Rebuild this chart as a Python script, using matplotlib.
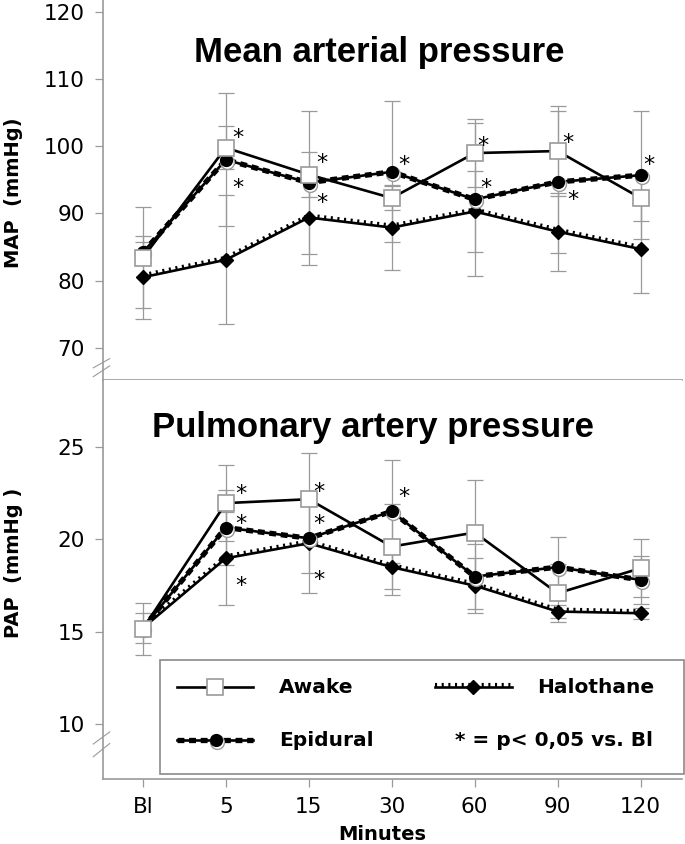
# MAP and PAP over time, three groups, mean +/- SD
import numpy as np
import matplotlib.pyplot as plt
from matplotlib.transforms import offset_copy
from matplotlib.patches import Rectangle

times = ['Bl', '5', '15', '30', '60', '90', '120']

map_awake = [83.4, 99.8, 95.8, 92.3, 99.0, 99.3, 92.3]
map_awake_sd = [7.5, 3.2, 3.3, 1.8, 5.0, 6.7, 3.4]
map_epidural = [84.2, 98.0, 94.6, 96.2, 92.1, 94.7, 95.7]
map_epidural_sd = [1.5, 9.9, 10.6, 10.5, 11.4, 10.6, 9.5]
map_halothane = [80.5, 83.1, 89.4, 87.9, 90.3, 87.3, 84.7]
map_halothane_sd = [6.2, 9.6, 7.1, 6.3, 6.1, 5.8, 6.5]

pap_awake = [15.15, 21.95, 22.16, 19.6, 20.36, 17.08, 18.43]
pap_awake_sd = [1.4, 2.05, 2.5, 2.3, 2.85, 1.58, 1.57]
pap_epidural = [15.2, 20.63, 20.05, 21.5, 17.98, 18.49, 17.8]
pap_epidural_sd = [0.8, 2.05, 1.9, 2.8, 1.75, 1.65, 1.3]
pap_halothane = [15.2, 18.97, 19.78, 18.49, 17.49, 16.09, 16.0]
pap_halothane_sd = [0.3, 2.5, 2.7, 1.5, 1.48, 0.36, 0.3]

# significance stars (time index, value)
map_star_x = [1.15, 1.15, 2.16, 2.16, 3.15, 4.1, 4.14, 5.12, 5.18, 6.1]
map_star_y = [101.6, 94.2, 97.9, 91.9, 97.5, 100.4, 94.2, 100.9, 92.4, 97.5]
pap_star_x = [1.18, 1.18, 1.18, 2.12, 2.12, 2.12, 3.15]
pap_star_y = [22.57, 20.95, 17.6, 22.66, 20.95, 17.9, 22.43]

GREY = '#9a9a9a'
TITLE_FONT = ['Liberation Sans', 'DejaVu Sans']


def awake_style(ax, x, y, tr):
  ax.plot(x, y, color='k', lw=1.9, marker='s', ms=11.5, mfc='white',
          mec=GREY, mew=1.2, transform=tr, zorder=6, clip_on=False)


def epidural_style(ax, x, y, tr, fig):
  ax.plot(x, y, color='k', lw=1.9, transform=tr, zorder=4, clip_on=False)
  ax.plot(x, y, color='k', lw=3.8, ls=(0, (1.3, 0.9)), transform=tr,
          zorder=4, clip_on=False)
  sh = offset_copy(tr, fig=fig, x=1.5, y=-2, units='dots')
  ax.plot(x, y, ls='none', marker='o', ms=10, mfc='white', mec=GREY,
          mew=1, transform=sh, zorder=5, clip_on=False)
  ax.plot(x, y, ls='none', marker='o', ms=8.5, mfc='k', mec='k',
          transform=tr, zorder=5, clip_on=False)


def halothane_style(ax, x, y, tr, fig):
  ax.plot(x, y, color='k', lw=1.9, transform=tr, zorder=3, clip_on=False)
  up = offset_copy(tr, fig=fig, x=0, y=2, units='dots')
  ax.plot(x, y, color='k', lw=3.0, ls=(0, (0.5, 1.1)), transform=up,
          zorder=3, clip_on=False)
  ax.plot(x, y, ls='none', marker='D', ms=7, mfc='k', mec='k',
          transform=tr, zorder=5, clip_on=False)


def style_axes(ax):
  for s in ['top', 'right']:
    ax.spines[s].set_visible(False)
  for s in ['left', 'bottom']:
    ax.spines[s].set_color(GREY)
    ax.spines[s].set_linewidth(1.2)
  ax.tick_params(axis='both', colors=GREY, length=6, width=0.9,
                 labelcolor='black', labelsize=15.5)
  ax.tick_params(axis='y', pad=7)
  ax.tick_params(axis='x', pad=7)
  ax.set_xlim(-0.48, 6.5)
  ax.set_xticks(np.arange(len(times)))


def break_marks(ax, y1, y2):
  for (a, b) in [y1, y2]:
    ax.plot([-0.0168, 0.0115], [a, b], color=GREY, lw=0.8,
            transform=ax.transAxes, clip_on=False)


def panel(ax, fig, aw, aw_sd, ep, ep_sd, ha, ha_sd, sx, sy):
  x = np.arange(len(times))
  for y, sd in [(aw, aw_sd), (ep, ep_sd), (ha, ha_sd)]:
    ax.errorbar(x, y, yerr=sd, fmt='none', ecolor=GREY, elinewidth=0.9,
                capsize=6, capthick=0.9, zorder=1)
  halothane_style(ax, x, ha, ax.transData, fig)
  epidural_style(ax, x, ep, ax.transData, fig)
  awake_style(ax, x, aw, ax.transData)
  for a, b in zip(sx, sy):
    ax.annotate('*', (a, b), xytext=(0, -6), textcoords='offset points',
                ha='center', va='baseline', fontsize=16, zorder=7)


def main():
  fig = plt.figure(figsize=(6.85, 8.44), dpi=100)
  ax1 = fig.add_axes([0.1504, 0.5498, 0.8453, 0.4502])
  ax2 = fig.add_axes([0.1504, 0.0770, 0.8453, 0.4727])

  # top panel: mean arterial pressure
  panel(ax1, fig, map_awake, map_awake_sd, map_epidural, map_epidural_sd,
        map_halothane, map_halothane_sd, map_star_x, map_star_y)
  style_axes(ax1)
  ax1.set_ylim(65.2, 121.8)
  ax1.set_yticks([70, 80, 90, 100, 110, 120])
  ax1.set_xticklabels([])
  ax1.text(0.477, 0.863, 'Mean arterial pressure', transform=ax1.transAxes,
           ha='center', va='center', fontsize=25, fontweight='bold',
           family=TITLE_FONT)
  break_marks(ax1, (0.032, 0.056), (0.0087, 0.037))

  # bottom panel: pulmonary artery pressure
  panel(ax2, fig, pap_awake, pap_awake_sd, pap_epidural, pap_epidural_sd,
        pap_halothane, pap_halothane_sd, pap_star_x, pap_star_y)
  style_axes(ax2)
  ax2.set_ylim(7.04, 28.6)
  ax2.set_yticks([10, 15, 20, 25])
  ax2.set_xticklabels(times)
  ax2.text(0.466, 0.882, 'Pulmonary artery pressure', transform=ax2.transAxes,
           ha='center', va='center', fontsize=25, fontweight='bold',
           family=TITLE_FONT)
  break_marks(ax2, (0.0877, 0.118), (0.0559, 0.089))

  # axis labels
  fig.text(14 / 685, 1 - 193 / 844, 'MAP  (mmHg)', rotation=90, ha='center',
           va='center', fontsize=14, fontweight='bold')
  fig.text(14 / 685, 1 - 563 / 844, 'PAP  (mmHg )', rotation=90, ha='center',
           va='center', fontsize=14, fontweight='bold')
  fig.text(382 / 685, 1 - 834 / 844, 'Minutes', ha='center', va='center',
           fontsize=14, fontweight='bold')

  # legend box
  ta = ax2.transAxes
  ax2.add_patch(Rectangle((0.0984, 0.0125), 0.905, 0.2855, transform=ta,
                          fill=True, facecolor='white', edgecolor='#8a8a8a',
                          lw=1.2, zorder=8, clip_on=False))
  r1, r2 = 0.2306, 0.0977
  ax2.plot([0.128, 0.259], [r1, r1], color='k', lw=1.9, transform=ta,
           zorder=9, clip_on=False)
  ax2.plot([0.193], [r1], ls='none', marker='s', ms=11.5, mfc='white',
           mec=GREY, mew=1.2, transform=ta, zorder=10, clip_on=False)
  lx = [0.128, 0.259]
  ax2.plot(lx, [r2, r2], color='k', lw=1.9, transform=ta, zorder=9,
           clip_on=False)
  ax2.plot(lx, [r2, r2], color='k', lw=3.8, ls=(0, (1.3, 0.9)),
           transform=ta, zorder=9, clip_on=False)
  sh = offset_copy(ta, fig=fig, x=1.5, y=-2, units='dots')
  ax2.plot([0.195], [r2], ls='none', marker='o', ms=10, mfc='white',
           mec=GREY, transform=sh, zorder=10, clip_on=False)
  ax2.plot([0.195], [r2], ls='none', marker='o', ms=8.5, mfc='k', mec='k',
           transform=ta, zorder=10, clip_on=False)
  hx = [0.573, 0.706]
  ax2.plot(hx, [r1, r1], color='k', lw=1.9, transform=ta, zorder=9,
           clip_on=False)
  up = offset_copy(ta, fig=fig, x=0, y=2, units='dots')
  ax2.plot(hx, [r1, r1], color='k', lw=3.0, ls=(0, (0.5, 1.1)),
           transform=up, zorder=9, clip_on=False)
  ax2.plot([0.639], [r1], ls='none', marker='D', ms=7, mfc='k', mec='k',
           transform=ta, zorder=10, clip_on=False)

  lt = dict(transform=ta, fontsize=14.5, fontweight='bold', va='center',
            zorder=10)
  ax2.text(0.304, r1, 'Awake', ha='left', **lt)
  ax2.text(0.304, r2, 'Epidural', ha='left', **lt)
  ax2.text(0.7496, r1, 'Halothane', ha='left', **lt)
  ax2.text(0.95, r2, '* = p< 0,05 vs. Bl', ha='right', **lt)

  fig.savefig('out.png', dpi=100)


main()
